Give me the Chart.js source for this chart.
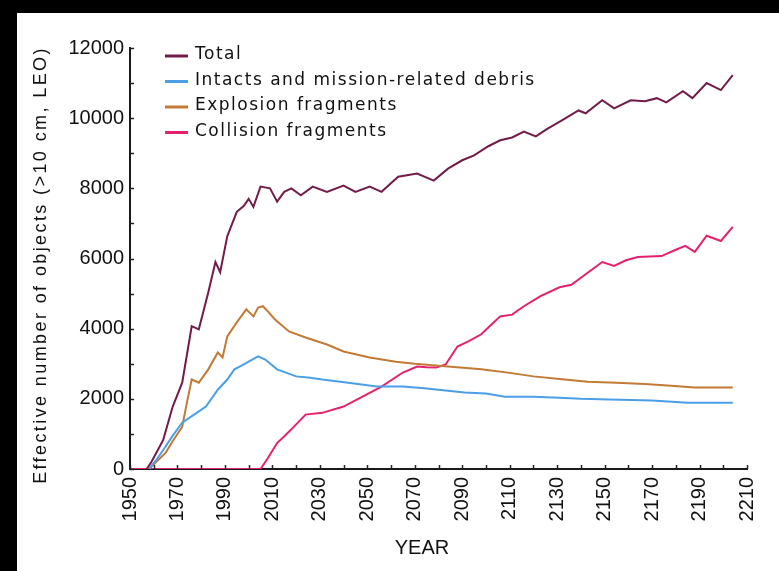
<!DOCTYPE html>
<html>
<head>
<meta charset="utf-8">
<script src="https://cdn.jsdelivr.net/npm/chart.js@4/dist/chart.umd.min.js"></script>
<style>
  html, body { margin: 0; padding: 0; background: #000; width: 779px; height: 571px; overflow: hidden; }
  #wrap { position: absolute; left: 17px; top: 13px; width: 762px; height: 558px; background: #fff; }
</style>
</head>
<body>
<div id="wrap"><canvas id="debrisChart" width="762" height="558"></canvas></div>
<script>
// Values (year, effective number of objects)
const seriesLabels = ['Total', 'Intacts and mission-related debris', 'Explosion fragments', 'Collision fragments'];
const seriesColors = ['#741c48', '#4a9fe6', '#c27a34', '#e5206c'];

const totalYears = [1957,1959,1961,1964,1968,1972,1976,1979,1983,1986,1988,1991,1995,1998,2000,2002,2005,2009,2012,2015,2018,2022,2027,2033,2040,2045,2051,2056,2063,2071,2078,2084,2090,2095,2101,2106,2111,2116,2121,2126,2132,2139,2142,2149,2154,2161,2167,2172,2176,2183,2187,2193,2199,2204];
const totalValues = [0,200,450,830,1780,2460,4070,3980,5040,5900,5610,6640,7330,7500,7700,7470,8050,8000,7620,7900,8000,7800,8050,7900,8080,7900,8050,7900,8330,8420,8220,8560,8800,8940,9200,9370,9450,9620,9480,9700,9940,10220,10140,10510,10280,10510,10480,10570,10450,10770,10570,11000,10800,11230];

const intactYears = [1958,1961,1964,1968,1972,1977,1982,1987,1991,1994,1997,2000,2004,2007,2012,2016,2020,2026,2031,2042,2054,2065,2074,2080,2091,2100,2108,2120,2131,2140,2152,2170,2185,2204];
const intactValues = [0,250,540,950,1320,1550,1780,2260,2550,2840,2950,3060,3210,3120,2840,2740,2640,2600,2550,2460,2350,2350,2300,2260,2180,2150,2060,2060,2030,2000,1980,1950,1890,1890];

const explosionYears = [1958,1961,1965,1968,1972,1974,1976,1979,1983,1987,1989,1991,1995,1999,2002,2004,2006,2008,2011,2017,2024,2033,2040,2051,2062,2070,2084,2098,2110,2120,2132,2143,2155,2167,2178,2188,2204];
const explosionValues = [0,200,460,800,1200,1900,2550,2460,2840,3320,3180,3780,4180,4550,4350,4600,4640,4500,4270,3920,3750,3550,3350,3180,3060,3000,2920,2840,2740,2640,2560,2490,2460,2420,2370,2320,2320];

const collisionYears = [1950,2005,2008,2012,2016,2019,2024,2031,2040,2048,2056,2065,2071,2075,2079,2083,2088,2093,2098,2102,2106,2111,2116,2123,2131,2136,2141,2149,2154,2159,2164,2174,2180,2184,2188,2193,2199,2204];
const collisionValues = [0,0,300,740,1000,1200,1550,1600,1780,2060,2350,2750,2920,2900,2890,2980,3490,3650,3840,4100,4350,4400,4640,4930,5180,5250,5500,5900,5790,5950,6040,6070,6250,6360,6190,6650,6500,6900];

const yearMin = 1950, yearMax = 2210, yearStep = 20, yearMinor = 10;
const countMin = 0, countMax = 12000, countStep = 2000, countMinor = 1000;

const xTitle = 'YEAR';
const yTitle = 'Effective number of objects (>10 cm, LEO)';

function toPoints(xs, ys) {
    return xs.map((x, i) => ({ x: x, y: ys[i] }));
}

const allYears = [totalYears, intactYears, explosionYears, collisionYears];
const allValues = [totalValues, intactValues, explosionValues, collisionValues];

const datasets = seriesLabels.map((label, i) => ({
    label: label,
    data: toPoints(allYears[i], allValues[i]),
    borderColor: seriesColors[i],
    backgroundColor: seriesColors[i],
    borderWidth: 2,
    pointRadius: 0,
    tension: 0,
    fill: false
}));

const FONT = '"Liberation Sans", Arial, sans-serif';

// inward tick marks, axis titles and the legend inside the plot
const decorations = {
    id: 'decorations',
    afterDraw(chart) {
        const ctx = chart.ctx;
        const x = chart.scales.x, y = chart.scales.y;
        const area = chart.chartArea;
        ctx.save();
        ctx.strokeStyle = '#222';
        ctx.lineWidth = 1.5;
        for (let v = countMin; v <= countMax; v += countMinor) {
            const py = Math.round(y.getPixelForValue(v)) + 0.5;
            ctx.beginPath();
            ctx.moveTo(area.left, py);
            ctx.lineTo(area.left + 4, py);
            ctx.stroke();
        }
        for (let v = yearMin; v <= yearMax; v += yearMinor) {
            const px = Math.round(x.getPixelForValue(v)) + 0.5;
            ctx.beginPath();
            ctx.moveTo(px, area.bottom);
            ctx.lineTo(px, area.bottom - 4);
            ctx.stroke();
        }

        // axis titles
        ctx.fillStyle = '#111';
        ctx.textAlign = 'center';
        ctx.textBaseline = 'middle';
        ctx.font = '20px ' + FONT;
        ctx.fillText(xTitle, 405, 535);

        ctx.save();
        ctx.translate(24, 252);
        ctx.rotate(-Math.PI / 2);
        ctx.font = '18px ' + FONT;
        if ('letterSpacing' in ctx) ctx.letterSpacing = '2.4px';
        ctx.fillText(yTitle, 0, 0);
        ctx.restore();

        // legend
        ctx.textAlign = 'left';
        ctx.font = '17px "DejaVu Sans"';
        if ('letterSpacing' in ctx) ctx.letterSpacing = '1.5px';
        seriesLabels.forEach((label, i) => {
            const cy = 42 + i * 25.5;
            ctx.strokeStyle = seriesColors[i];
            ctx.lineWidth = 3;
            ctx.beginPath();
            ctx.moveTo(148, cy + 1);
            ctx.lineTo(171, cy + 1);
            ctx.stroke();
            ctx.fillText(label, 178, cy);
        });
        ctx.restore();
    }
};

new Chart(document.getElementById('debrisChart'), {
    type: 'line',
    data: { datasets },
    options: {
        responsive: false,
        animation: false,
        layout: { padding: { top: 35, right: 22, left: 0, bottom: 0 } },
        plugins: {
            legend: { display: false },
            tooltip: { enabled: false }
        },
        scales: {
            x: {
                type: 'linear',
                min: yearMin,
                max: yearMax,
                grid: { display: false, drawTicks: false },
                border: { display: true, color: '#1a1a1a', width: 2 },
                ticks: {
                    stepSize: yearStep,
                    maxRotation: 90,
                    minRotation: 90,
                    padding: 8,
                    color: '#111',
                    font: { family: FONT, size: 20 },
                    callback: v => String(v)
                },
                afterFit: s => { s.height = 102; }
            },
            y: {
                min: countMin,
                max: countMax,
                grid: { display: false, drawTicks: false },
                border: { display: true, color: '#1a1a1a', width: 2 },
                ticks: {
                    stepSize: countStep,
                    padding: 6,
                    color: '#111',
                    font: { family: FONT, size: 20 },
                    callback: v => String(v)
                },
                afterFit: s => { s.width = 113; }
            }
        }
    },
    plugins: [decorations]
});
</script>
</body>
</html>
